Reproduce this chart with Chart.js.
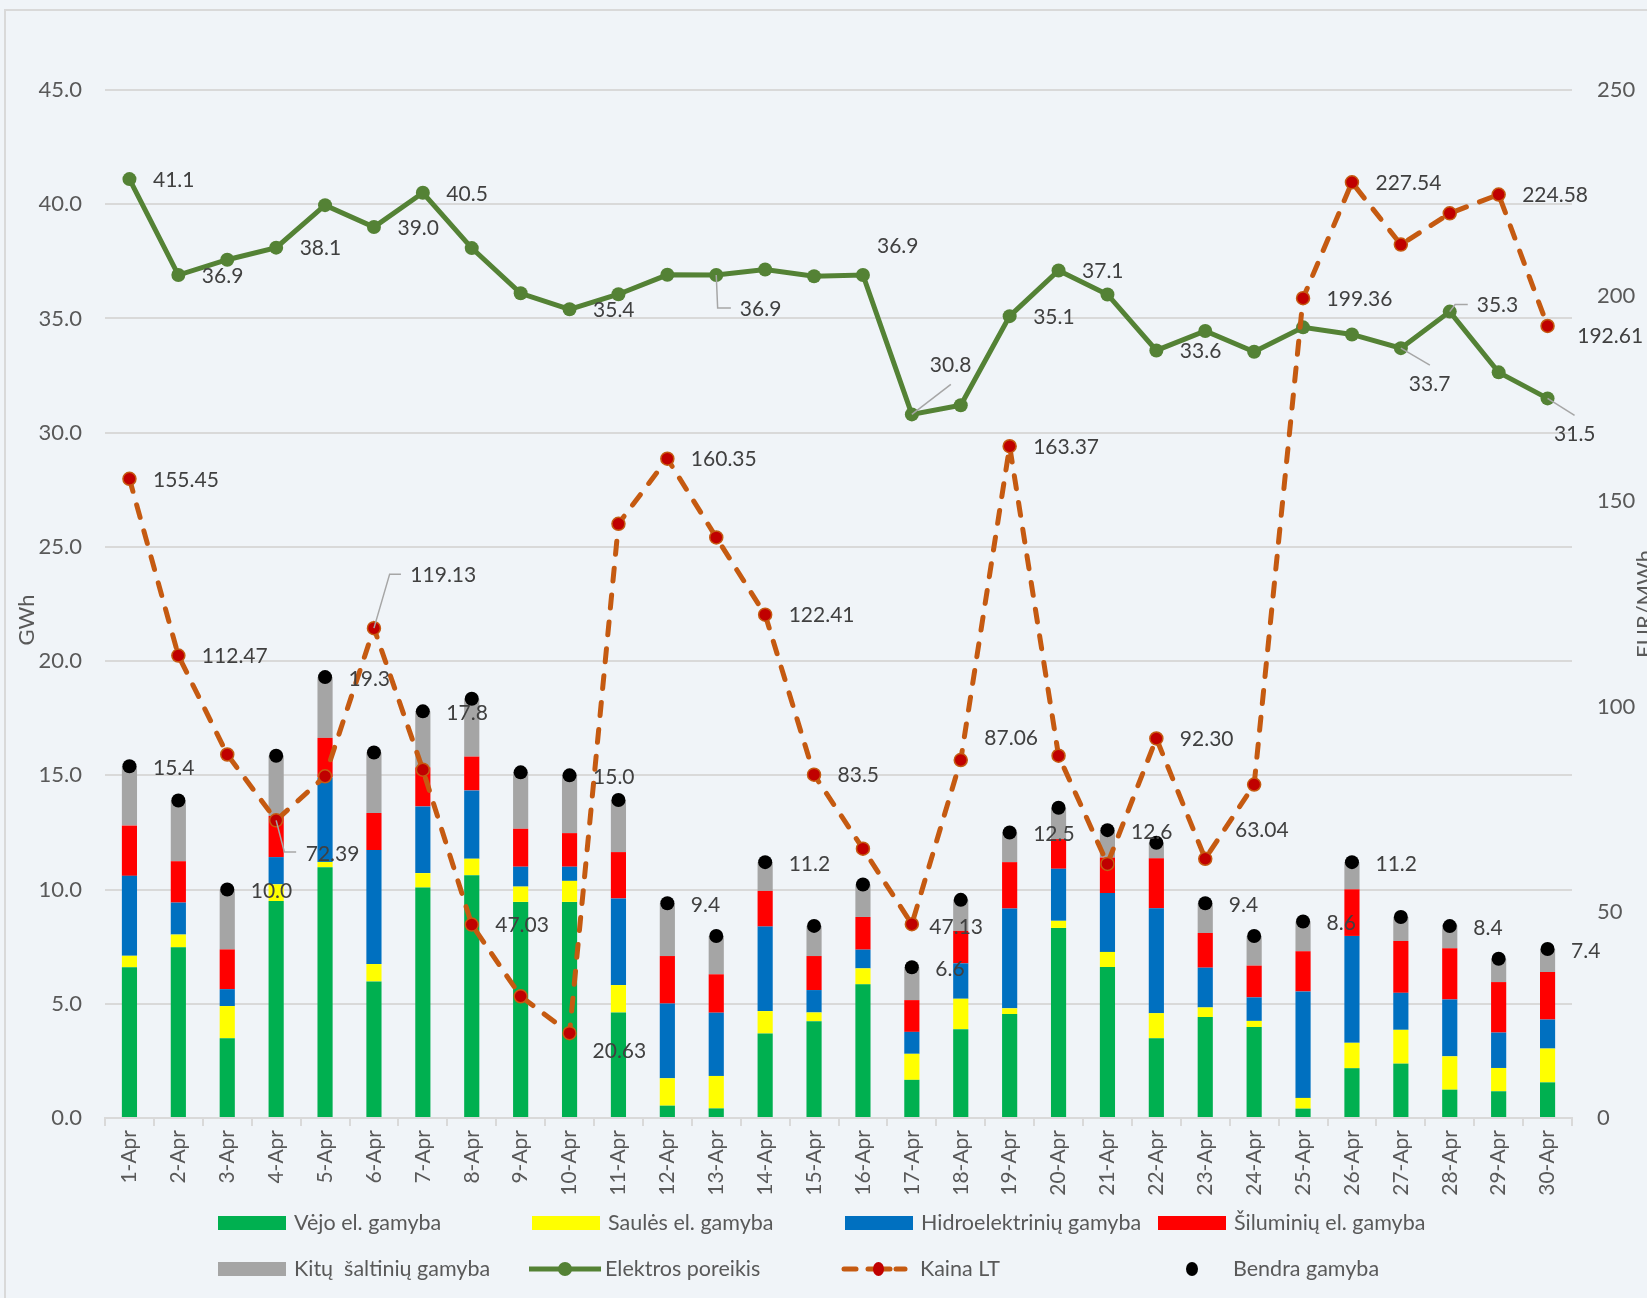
<!DOCTYPE html>
<html>
<head>
<meta charset="utf-8">
<script src="https://cdn.jsdelivr.net/npm/chart.js@4.4.0/dist/chart.umd.min.js"></script>
<style>
  html, body { margin:0; padding:0; background:#F0F4F8; overflow:hidden; }
  #wrap { position:relative; width:1647px; height:1298px; }
</style>
</head>
<body>
<div id="wrap"><canvas id="c" width="1647" height="1298"></canvas></div>
<script>
// ---------- DATA ----------
const categories = ['1-Apr','2-Apr','3-Apr','4-Apr','5-Apr','6-Apr','7-Apr','8-Apr','9-Apr','10-Apr',
  '11-Apr','12-Apr','13-Apr','14-Apr','15-Apr','16-Apr','17-Apr','18-Apr','19-Apr','20-Apr',
  '21-Apr','22-Apr','23-Apr','24-Apr','25-Apr','26-Apr','27-Apr','28-Apr','29-Apr','30-Apr'];
const wind    = [6.6, 7.47, 3.49, 9.5, 10.98, 5.98, 10.09, 10.63, 9.46, 9.46, 4.62, 0.54, 0.42, 3.7, 4.24, 5.85, 1.67, 3.89, 4.55, 8.32, 6.61, 3.49, 4.42, 3.98, 0.41, 2.18, 2.38, 1.24, 1.17, 1.56];
const solar   = [0.5, 0.56, 1.41, 0.73, 0.23, 0.76, 0.63, 0.72, 0.67, 0.92, 1.2, 1.2, 1.42, 0.98, 0.38, 0.7, 1.14, 1.33, 0.25, 0.31, 0.66, 1.1, 0.42, 0.27, 0.47, 1.11, 1.48, 1.46, 1.02, 1.48];
const hydro   = [3.5, 1.4, 0.74, 1.19, 3.7, 4.99, 2.92, 2.99, 0.87, 0.62, 3.79, 3.27, 2.77, 3.7, 0.98, 0.82, 0.96, 1.55, 4.37, 2.28, 2.58, 4.59, 1.74, 1.03, 4.66, 4.68, 1.62, 2.49, 1.55, 1.27];
const thermal = [2.2, 1.81, 1.74, 1.8, 1.73, 1.62, 1.71, 1.48, 1.66, 1.47, 2.03, 2.08, 1.68, 1.56, 1.49, 1.43, 1.39, 1.42, 2.03, 1.3, 1.55, 2.19, 1.52, 1.39, 1.76, 2.04, 2.27, 2.24, 2.21, 2.08];
const other   = [2.6, 2.66, 2.62, 2.64, 2.66, 2.65, 2.45, 2.53, 2.47, 2.53, 2.28, 2.31, 1.68, 1.26, 1.32, 1.42, 1.44, 1.36, 1.3, 1.37, 1.2, 0.68, 1.3, 1.3, 1.3, 1.19, 1.05, 1.01, 1.02, 1.01];
const total   = [15.4, 13.9, 10.0, 15.86, 19.3, 16.0, 17.8, 18.35, 15.13, 15.0, 13.92, 9.4, 7.97, 11.2, 8.41, 10.22, 6.6, 9.55, 12.5, 13.58, 12.6, 12.05, 9.4, 7.97, 8.6, 11.2, 8.8, 8.4, 6.97, 7.4];
const demand  = [41.1, 36.9, 37.57, 38.1, 39.96, 39.0, 40.5, 38.08, 36.1, 35.4, 36.06, 36.91, 36.9, 37.14, 36.85, 36.9, 30.8, 31.2, 35.1, 37.1, 36.05, 33.6, 34.45, 33.54, 34.61, 34.3, 33.7, 35.3, 32.64, 31.5];
const price   = [155.45, 112.47, 88.4, 72.39, 83.1, 119.13, 84.7, 47.03, 29.6, 20.63, 144.5, 160.35, 141.2, 122.41, 83.5, 65.5, 47.13, 87.06, 163.37, 88.1, 61.8, 92.30, 63.04, 81.1, 199.36, 227.54, 212.4, 220.0, 224.58, 192.61];
const leftTicks  = { min: 0, max: 45, step: 5 };
const rightTicks = { min: 0, max: 250, step: 50 };
const seriesNames = ['Vėjo el. gamyba','Saulės el. gamyba','Hidroelektrinių gamyba','Šiluminių el. gamyba',
  'Kitų  šaltinių gamyba','Elektros poreikis','Kaina LT','Bendra gamyba'];

// ---------- LABEL PLACEMENT (style) ----------
const demandLabelPos = {0:{},1:{},3:{},5:{},6:{},9:{},
  12:{dx:23.6,dy:34,leader:[[1.4,33],[14.6,33]]},
  15:{dx:14,dy:-29},
  16:{dx:18,dy:-49,leader:[[39,-30]]},
  18:{},19:{},21:{},
  26:{dx:8,dy:36,leader:[[29,17]]},
  27:{dx:27,dy:-6.4,leader:[[5.4,-7],[18,-7]]},
  29:{dx:6.5,dy:36,leader:[[27,17]]}};
const priceLabelPos = {0:{},1:{},
  3:{dx:29.6,dy:34,leader:[[8.2,31.7],[20,31.7]]},
  5:{dx:36.4,dy:-52.5,leader:[[15.7,-54],[27,-54]]},
  7:{},9:{dx:23,dy:18},11:{},13:{},14:{dec:1},16:{dx:17.5,dy:3},17:{dx:23.6,dy:-22},18:{},21:{},
  22:{dx:29.7,dy:-29},24:{},25:{},28:{},29:{dx:29.7,dy:10}};
const totalLabelPos = {0:{},2:{},4:{},6:{},9:{},11:{},13:{},16:{},18:{},20:{},22:{},24:{},25:{},27:{},29:{}};

const FONT = 'Lato, "Open Sans", sans-serif';
const C = { wind:'#00B050', solar:'#FFFF00', hydro:'#0070C0', thermal:'#FF0000', other:'#A5A5A5',
  demand:'#548235', price:'#C55A11', priceMarker:'#C00000', total:'#000000',
  grid:'#D9D9D9', tick:'#595959', label:'#404040', bg:'#F0F4F8' };

function barDs(label, data, color) {
  return { type:'bar', label, data, backgroundColor: color, borderWidth: 0, stack:'gen',
    yAxisID:'y', order: 4, barPercentage: 0.31, categoryPercentage: 1.0 };
}

const datasets = [
  barDs(seriesNames[0], wind, C.wind),
  barDs(seriesNames[1], solar, C.solar),
  barDs(seriesNames[2], hydro, C.hydro),
  barDs(seriesNames[3], thermal, C.thermal),
  barDs(seriesNames[4], other, C.other),
  { type:'line', label: seriesNames[5], data: demand, yAxisID:'y', stack:'demand', order: 1,
    borderColor: C.demand, borderWidth: 5, pointRadius: 7, pointBackgroundColor: C.demand,
    pointBorderColor: C.demand, pointBorderWidth: 0, tension: 0, _labels: demandLabelPos, _dec: 1 },
  { type:'line', label: seriesNames[6], data: price, yAxisID:'y1', order: 0,
    borderColor: C.price, borderWidth: 5, borderDash:[13,14], borderCapStyle:'round',
    pointRadius: 6.5, pointBackgroundColor: C.priceMarker, pointBorderColor: C.price, pointBorderWidth: 1.5,
    tension: 0, _labels: priceLabelPos, _dec: 2 },
  { type:'line', label: seriesNames[7], data: total, yAxisID:'y', stack:'total', order: 2,
    showLine: false, pointRadius: 7, pointBackgroundColor: C.total, pointBorderWidth: 0,
    _labels: totalLabelPos, _dec: 1, _dy: 2 }
];

const bgPlugin = {
  id: 'bg',
  beforeDraw(chart) {
    const ctx = chart.ctx;
    ctx.save();
    ctx.fillStyle = C.bg;
    ctx.fillRect(0, 0, chart.width, chart.height);
    ctx.strokeStyle = C.grid; ctx.lineWidth = 2;
    ctx.strokeRect(5, 10, chart.width + 20, chart.height + 20);
    ctx.restore();
  }
};

const labelPlugin = {
  id: 'pointLabels',
  afterDatasetsDraw(chart) {
    const ctx = chart.ctx;
    ctx.save();
    ctx.font = '21px ' + FONT;
    ctx.textBaseline = 'middle';
    ctx.textAlign = 'left';
    chart.data.datasets.forEach((ds, di) => {
      if (!ds._labels) return;
      const meta = chart.getDatasetMeta(di);
      Object.keys(ds._labels).forEach(k => {
        const i = +k, cfg = ds._labels[k];
        const el = meta.data[i]; if (!el) return;
        const px = el.x, py = el.y;
        const dx = cfg.dx !== undefined ? cfg.dx : 23.5;
        const dy = cfg.dy !== undefined ? cfg.dy : (ds._dy || 1);
        if (cfg.leader) {
          ctx.strokeStyle = '#A6A6A6'; ctx.lineWidth = 1.5; ctx.setLineDash([]);
          ctx.beginPath(); ctx.moveTo(px, py);
          cfg.leader.forEach(p => ctx.lineTo(px + p[0], py + p[1]));
          ctx.stroke();
        }
        const dec = cfg.dec !== undefined ? cfg.dec : ds._dec;
        ctx.fillStyle = C.label;
        ctx.fillText(ds.data[i].toFixed(dec), px + dx, py + dy);
      });
    });
    ctx.restore();
  }
};

const titlesLegendPlugin = {
  id: 'titlesLegend',
  afterDraw(chart) {
    const ctx = chart.ctx;
    ctx.save();
    // axis titles
    ctx.fillStyle = C.tick; ctx.font = '22px ' + FONT;
    ctx.textAlign = 'center'; ctx.textBaseline = 'middle';
    ctx.save(); ctx.translate(27, 620); ctx.rotate(-Math.PI/2); ctx.fillText('GWh', 0, 0); ctx.restore();
    ctx.save(); ctx.translate(1645, 604); ctx.rotate(-Math.PI/2); ctx.fillText('EUR/MWh', 0, 0); ctx.restore();
    // legend
    const rows = [1223, 1269];
    const items = [
      {r:0, x:218, k:'box', d:0}, {r:0, x:532, k:'box', d:1}, {r:0, x:845, k:'box', d:2}, {r:0, x:1158, k:'box', d:3},
      {r:1, x:218, k:'box', d:4}, {r:1, x:529, k:'line', d:5}, {r:1, x:842, k:'dash', d:6}, {r:1, x:1185, k:'dot', d:7, tx:1233}
    ];
    ctx.font = '21.5px ' + FONT; ctx.textAlign = 'left'; ctx.textBaseline = 'middle';
    items.forEach(it => {
      const ds = chart.data.datasets[it.d];
      const y = rows[it.r];
      if (it.k === 'box') {
        ctx.fillStyle = ds.backgroundColor; ctx.fillRect(it.x, y - 7, 68, 14);
      } else if (it.k === 'line') {
        ctx.strokeStyle = ds.borderColor; ctx.lineWidth = 5; ctx.setLineDash([]); ctx.lineCap = 'butt';
        ctx.beginPath(); ctx.moveTo(it.x, y); ctx.lineTo(it.x + 72, y); ctx.stroke();
        ctx.fillStyle = ds.pointBackgroundColor; ctx.beginPath(); ctx.arc(it.x + 36, y, 7, 0, Math.PI*2); ctx.fill();
      } else if (it.k === 'dash') {
        ctx.strokeStyle = ds.borderColor; ctx.lineWidth = 5; ctx.lineCap = 'round'; ctx.setLineDash([]);
        [[844,856],[868,890],[896,905]].forEach(s => { ctx.beginPath(); ctx.moveTo(s[0], y); ctx.lineTo(s[1], y); ctx.stroke(); });
        ctx.fillStyle = ds.pointBackgroundColor; ctx.beginPath(); ctx.ellipse(878.5, y, 5.5, 7, 0, 0, Math.PI*2); ctx.fill();
      } else if (it.k === 'dot') {
        ctx.fillStyle = '#000'; ctx.beginPath(); ctx.ellipse(1192, y, 6, 7, 0, 0, Math.PI*2); ctx.fill();
      }
      ctx.fillStyle = C.tick;
      ctx.fillText(ds.label, it.tx || (it.k === 'dash' ? 920 : it.x + 76), y);
    });
    ctx.restore();
  }
};

Chart.defaults.font.family = FONT;

new Chart(document.getElementById('c'), {
  data: { labels: categories, datasets },
  options: {
    responsive: false,
    animation: false,
    devicePixelRatio: 1,
    layout: { padding: { top: 90, left: 0, right: 0, bottom: 0 } },
    plugins: { legend: { display: false }, tooltip: { enabled: false } },
    scales: {
      x: {
        stacked: true,
        grid: { offset: true, drawOnChartArea: false, drawTicks: true, tickLength: 8, color: C.grid, lineWidth: 2 },
        border: { display: true, color: C.grid, width: 2 },
        ticks: { minRotation: 90, maxRotation: 90, autoSkip: false, color: C.tick, font: { size: 21 }, padding: 4 },
        afterFit: s => { s.height = 180; }
      },
      y: {
        stacked: true, position: 'left',
        min: leftTicks.min, max: leftTicks.max,
        ticks: { stepSize: leftTicks.step, callback: v => Number(v).toFixed(1), color: C.tick, font: { size: 22 }, padding: 23 },
        grid: { color: C.grid, lineWidth: 2, drawTicks: false },
        border: { display: false },
        afterFit: s => { s.width = 105; }
      },
      y1: {
        position: 'right',
        min: rightTicks.min, max: rightTicks.max,
        ticks: { stepSize: rightTicks.step, color: C.tick, font: { size: 22 }, padding: 25 },
        grid: { drawOnChartArea: false, drawTicks: false },
        border: { display: false },
        afterFit: s => { s.width = 75; }
      }
    }
  },
  plugins: [bgPlugin, labelPlugin, titlesLegendPlugin]
});
</script>
</body>
</html>
